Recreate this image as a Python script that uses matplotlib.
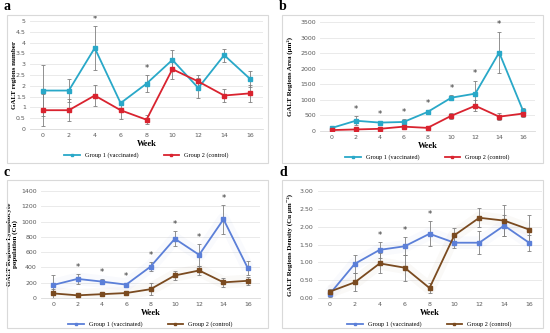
import numpy as np
import matplotlib.pyplot as plt
from matplotlib.patches import Rectangle

weeks = ['0', '2', '4', '6', '8', '10', '12', '14', '16']

# panel a - GALT regions number
a_g1 = [1.78, 1.78, 3.75, 1.2, 2.1, 3.2, 1.9, 3.42, 2.32]
a_g1_err = [1.2, 0.52, 1.0, 0.1, 0.4, 0.45, 0.45, 0.3, 0.38]
a_g2 = [0.87, 0.87, 1.55, 0.87, 0.43, 2.77, 2.2, 1.55, 1.65]
a_g2_err = [0.75, 0.5, 0.5, 0.42, 0.22, 0.45, 0.3, 0.3, 0.38]
a_star = [4, 8]

# panel b - GALT regions area
b_g1 = [100, 330, 270, 290, 610, 1070, 1200, 2520, 650]
b_g1_err = [60, 150, 60, 80, 60, 90, 420, 670, 100]
b_g2 = [30, 50, 70, 140, 100, 490, 810, 460, 560]
b_g2_err = [20, 30, 40, 50, 50, 90, 170, 110, 100]
b_star = [2, 4, 6, 8, 10, 12, 14]

# panel c - lymphocyte population
c_g1 = [170, 250, 215, 175, 410, 775, 565, 1030, 390]
c_g1_err = [125, 65, 30, 25, 60, 100, 140, 190, 90]
c_g2 = [60, 35, 50, 65, 115, 295, 360, 205, 225]
c_g2_err = [60, 15, 15, 25, 80, 55, 60, 60, 50]
c_star = [2, 4, 6, 8, 10, 12, 14]

# panel d - density
d_g1 = [0.12, 0.96, 1.35, 1.45, 1.8, 1.55, 1.55, 2.03, 1.55]
d_g1_err = [0.1, 0.25, 0.22, 0.25, 0.35, 0.15, 0.33, 0.3, 0.22]
d_g2 = [0.18, 0.44, 0.97, 0.85, 0.28, 1.76, 2.25, 2.17, 1.92]
d_g2_err = [0.08, 0.25, 0.28, 0.36, 0.13, 0.2, 0.27, 0.43, 0.4]
d_star = [4, 6, 8]

serif = ['Liberation Serif', 'DejaVu Serif']
W, H = 550, 333

fig = plt.figure(figsize=(5.5, 3.33), dpi=100)


def px(l, t, r, b):
    return [l / W, 1 - b / H, (r - l) / W, (b - t) / H]


def panel(box, ax_rect, letter, g1, e1, g2, e2, stars, ymax, ystep, ylabel,
          c1, c2, fmt, glow=False, ylab_x=-0.09):
    l, t, r, b = box
    fig.patches.append(Rectangle((l / W, 1 - b / H), (r - l) / W, (b - t) / H,
                                 transform=fig.transFigure, fill=False,
                                 ec='#d9d9d9', lw=0.8))
    fig.text((l - 3) / W, 1 - (t - 8) / H, letter, fontsize=10, fontweight='bold',
             family=serif, va='center', ha='left')
    ax = fig.add_axes(px(*ax_rect))
    x = np.arange(len(weeks))
    if glow:
        ax.plot(x, g1, color=c1, lw=9, alpha=0.035, solid_capstyle='butt')
        ax.plot(x, g2, color=c2, lw=9, alpha=0.03, solid_capstyle='butt')
    ax.errorbar(x, g1, yerr=e1, fmt='none', ecolor='#7f7f7f', elinewidth=0.6,
                capsize=1.5, capthick=0.6, zorder=2)
    ax.errorbar(x, g2, yerr=e2, fmt='none', ecolor='#7f7f7f', elinewidth=0.6,
                capsize=1.5, capthick=0.6, zorder=2)
    l1, = ax.plot(x, g1, color=c1, lw=1.3, marker='s', ms=2.5, zorder=3)
    l2, = ax.plot(x, g2, color=c2, lw=1.3, marker='s', ms=2.5, zorder=3)
    for w in stars:
        i = weeks.index(str(w))
        ax.text(i, g1[i] + e1[i] + ymax * 0.02, '*', ha='center', va='bottom',
                fontsize=6, color='#333333')
    ax.set_xlim(-0.5, len(weeks) - 0.5)
    ax.set_ylim(0, ymax)
    ax.set_xticks(x)
    ax.set_xticklabels(weeks)
    yt = np.arange(0, ymax + ystep / 2, ystep)
    ax.set_yticks(yt)
    ax.set_yticklabels([fmt(v) for v in yt])
    ax.tick_params(length=0, labelsize=4.5, labelcolor='#595959', pad=3)
    ax.grid(axis='y', color='#e6e6e6', lw=0.6)
    ax.set_axisbelow(True)
    for s in ['top', 'right', 'left']:
        ax.spines[s].set_visible(False)
    ax.spines['bottom'].set_color('#d9d9d9')
    ax.spines['bottom'].set_linewidth(0.6)
    ax.set_xlabel('Week', family=serif, fontweight='bold', fontsize=6, labelpad=1)
    ax.set_ylabel(ylabel, family=serif, fontweight='bold', fontsize=5,
                  linespacing=1.1)
    ax.yaxis.set_label_coords(ylab_x, 0.5)
    ax.legend([l1, l2], ['Group 1 (vaccinated)', 'Group 2 (control)'],
              loc='upper center', bbox_to_anchor=(0.5, -0.165), ncol=2,
              frameon=False, prop={'family': serif, 'size': 4.5},
              handlelength=2.5, columnspacing=4, markerscale=0.8)
    return ax


cyan, red = '#29a8c8', '#d9232f'
blue, brown = '#5b7fd8', '#7a4a1f'

panel((7, 15, 268, 163), (30, 21, 263, 129), 'a', a_g1, a_g1_err, a_g2, a_g2_err,
      a_star, 5, 0.5, 'GALT regions number', cyan, red,
      lambda v: f'{v:g}', ylab_x=-0.056)
panel((282, 15, 543, 163), (320, 22, 535, 131), 'b', b_g1, b_g1_err, b_g2, b_g2_err,
      b_star, 3500, 500, 'GALT Regions Area (μm²)', cyan, red,
      lambda v: f'{v:.0f}', ylab_x=-0.125)
panel((7, 180, 268, 328), (41, 191, 260, 298), 'c', c_g1, c_g1_err, c_g2, c_g2_err,
      c_star, 1400, 200, 'GALT Regions Lymphocyte\npopulation (Cu)', blue, brown,
      lambda v: f'{v:.0f}', glow=True, ylab_x=-0.105)
panel((282, 180, 543, 328), (317.5, 191, 541.5, 298), 'd', d_g1, d_g1_err, d_g2, d_g2_err,
      d_star, 3.0, 0.5, 'GALT Regions Density (Cu μm⁻²)', blue, brown,
      lambda v: f'{v:.2f}', glow=True, ylab_x=-0.11)

fig.savefig('out.png', dpi=100)
